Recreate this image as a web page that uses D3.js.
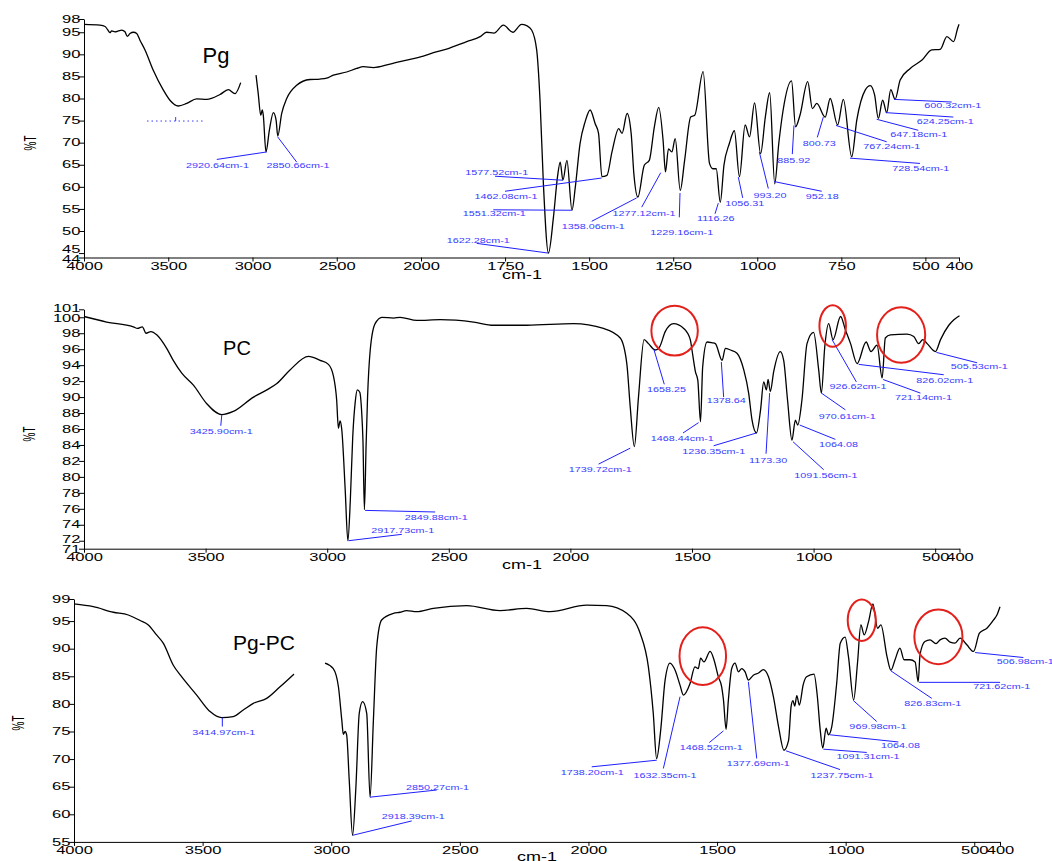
<!DOCTYPE html>
<html>
<head>
<meta charset="utf-8">
<script src="https://cdn.jsdelivr.net/npm/d3@7"></script>
<style>
  body { margin: 0; background: #fff; }
  text { font-family: Arial, "Liberation Sans", sans-serif; }
</style>
</head>
<body>
<div id="chart"></div>
<script>
// ---- data: [wavenumber cm-1, %T] ----
var pgSpectrumA = [[4000,96.8],[3905,96.6],[3875,96.3],[3860,95.6],[3846,94.9],[3836,95.3],[3816,95.1],[3796,95.3],[3776,95.5],[3757,95.1],[3743,94.1],[3727,94.7],[3707,95],[3687,94.7],[3668,93.2],[3638,91.0],[3589,86.4],[3529,81.9],[3490,79.6],[3440,78.3],[3390,78.9],[3331,79.9],[3272,79.8],[3193,80.9],[3143,82.0],[3104,81.1],[3070,83.6]];
var pgSpectrumB = [[2979,85.3],[2966,81.1],[2951,76.2],[2942,77.4],[2936,76.2],[2920,67.9],[2900,72.8],[2876,76.8],[2860,75.1],[2850,71.5],[2827,76.6],[2797,80],[2738,83],[2659,84.3],[2600,84.4],[2560,84.6],[2520,85.3],[2441,86],[2382,86.8],[2342,87.2],[2283,87],[2184,87.8],[2085,88.7],[1993,89.6],[1963,90.4],[1924,91.2],[1864,92.9],[1824,94],[1805,95],[1783,94.8],[1755,96.6],[1727,95],[1701,96.8],[1686,96.5],[1671,95.5],[1656,91],[1646,79.6],[1636,60.7],[1621,45],[1606,53.2],[1594,62.3],[1586,65.6],[1578,61.5],[1566,66],[1551,54.7],[1541,60],[1527,69.8],[1512,74.7],[1497,77.4],[1482,74.3],[1472,72.1],[1462,62.3],[1447,62.6],[1432,67.9],[1412,73.2],[1402,72.1],[1387,76.6],[1375,72.1],[1367,63],[1355,57.7],[1336,64.9],[1321,66],[1306,73.6],[1293,78],[1280,70.5],[1273,63.4],[1264,68.6],[1254,67.9],[1244,70.9],[1229,59.2],[1216,66],[1198,75.8],[1186,76.2],[1161,86.1],[1142,65.3],[1132,64.1],[1122,64.1],[1110,56.5],[1099,64.9],[1083,69.8],[1068,72.7],[1053,62.3],[1036,74],[1023,71.3],[1008,79],[990,67.5],[976,75.8],[963,81.3],[948,60.7],[936,69.8],[923,77.4],[898,84],[886,73.6],[873,76.2],[850,83.8],[836,77.7],[823,78.9],[798,75.8],[783,80],[761,74],[744,79.8],[719,66.8],[704,75.1],[679,81.9],[664,82.9],[651,80.8],[640,75.5],[627,79.6],[615,76.8],[603,82],[590,79.8],[575,84.2],[545,86.8],[510,88.7],[481,91],[456,91.1],[436,94],[416,92.9],[404,95.9],[400,96.8]];

var pcSpectrum = [[4000,100.1],[3907,99.4],[3797,98.8],[3780,98.6],[3760,98.8],[3745,98.0],[3725,98.2],[3701,97.8],[3660,96.1],[3633,94.6],[3598,93],[3550,91.5],[3496,89.2],[3434,87.8],[3386,88.2],[3303,90],[3248,90.9],[3207,91.7],[3153,93.4],[3077,95.1],[3029,94.6],[2995,94.1],[2974,92.6],[2961,89.6],[2954,86.1],[2947,87],[2940,85.9],[2926,78.4],[2915,72],[2905,77],[2895,85],[2885,89.3],[2876,90.9],[2866,90.6],[2858,88],[2853,84.6],[2847,75.9],[2840,84],[2834,90],[2823,95.9],[2803,99.2],[2775,100],[2727,99.9],[2700,100],[2631,99.6],[2535,99.7],[2398,99.4],[2316,99],[2179,99],[1987,99.2],[1864,98.6],[1795,97.4],[1768,94.2],[1754,88.8],[1737,83.8],[1720,90],[1697,97.2],[1679,96.7],[1651,95.9],[1633,96.3],[1610,98.2],[1576,99.2],[1534,98.6],[1507,97.2],[1500,95.9],[1486,93.2],[1476,92.1],[1465,86.9],[1456,93.8],[1438,96.9],[1417,96.8],[1404,96.7],[1376,94.6],[1363,96.1],[1342,95.9],[1315,95.5],[1287,93.4],[1267,90.5],[1253,87.1],[1235,85.5],[1218,88.4],[1205,91.9],[1194,90.9],[1187,92.2],[1178,90.7],[1164,93.2],[1137,95.7],[1123,94.6],[1107,89.6],[1089,84.6],[1075,87.1],[1065,86.5],[1048,89.6],[1027,96.7],[1000,98.1],[979,93.4],[968,90.5],[954,96.3],[938,99.2],[920,97.2],[889,100.1],[869,98.4],[848,96.7],[821,94.2],[784,96.9],[764,95.7],[739,96.5],[718,92.4],[705,97.4],[684,97.8],[616,97.9],[588,97.6],[568,96.7],[551,97.2],[533,96.7],[499,95.7],[478,97.2],[444,99],[423,99.7],[400,100.2]];

var pgpcSpectrumA = [[4000,98.1],[3925,97.6],[3847,96.6],[3789,96.1],[3743,95.1],[3711,94.3],[3679,92.5],[3653,91],[3614,87],[3581,84.9],[3523,81.6],[3471,78.6],[3426,77.5],[3381,77.7],[3342,78.9],[3303,80.1],[3251,81],[3199,83.1],[3145,85.4]];
var pgpcSpectrumB = [[3024,87.4],[2992,86.4],[2972,83.1],[2959,77.1],[2953,74.5],[2946,75],[2940,74.4],[2930,66.2],[2917,56.2],[2904,65],[2891,78.3],[2878,80.4],[2862,78.3],[2849,63.1],[2836,77.1],[2823,90.4],[2804,95.2],[2758,96.4],[2733,96.6],[2707,96.9],[2668,96.7],[2603,97.3],[2473,97.8],[2344,96.9],[2240,97.3],[2149,96.7],[2007,97.9],[1929,97.8],[1851,96.4],[1799,92.8],[1767,86.7],[1748,78.3],[1735,70.1],[1719,75.3],[1702,84.3],[1683,87.4],[1663,86.1],[1644,83.4],[1631,81.6],[1605,83.7],[1586,86.7],[1573,86.4],[1564,88.3],[1551,87.6],[1527,89.5],[1512,88],[1495,84.9],[1482,83.1],[1475,80.7],[1465,75.4],[1456,80.7],[1443,86.4],[1430,87.4],[1417,85.8],[1404,86.4],[1391,85.8],[1378,84.3],[1359,85.2],[1339,85.6],[1320,86.2],[1300,84.9],[1281,81.3],[1261,75.9],[1240,71.6],[1222,73.4],[1212,79.6],[1205,80.6],[1198,79.6],[1190,81.5],[1180,79.8],[1165,83.5],[1152,84.9],[1123,85.4],[1110,81.3],[1099,75.3],[1089,72],[1076,75.6],[1067,74.4],[1054,75.9],[1035,83.7],[1021,91],[1002,92.1],[989,88.5],[969,80.7],[954,87.4],[941,94.3],[928,92.5],[911,94.9],[894,98.1],[876,93.7],[863,94.3],[839,88.5],[824,86.1],[808,88],[789,90.1],[773,88],[750,88],[730,87.6],[718,84],[711,88.9],[692,91.3],[672,91.6],[649,90.9],[633,91.6],[614,91.9],[594,91.2],[575,91],[555,91.9],[529,90.7],[503,89.5],[480,92.8],[451,93.7],[425,95.2],[412,96.1],[400,97.6]];

// tick values
var pgTicksX = [4000,3500,3000,2500,2000,1750,1500,1250,1000,750,500,400];
var pcTicksX = [4000,3500,3000,2500,2000,1500,1000,500,400];
var pgpcTicksX = [4000,3500,3000,2500,2000,1500,1000,500,400];
var pgTicksY = [98,95,90,85,80,75,70,65,60,55,50,45,44];
var pcTicksY = [101,100,98,96,94,92,90,88,86,84,82,80,78,76,74,72,71];
var pgpcTicksY = [99,95,90,85,80,75,70,65,60,55];

// peak labels: [text, peak cm-1, peak %T, leader end cm-1, leader end %T, label cm-1, label %T]
var pgPeakLabels = [
  ["2920.64cm-1",2915.7,67.9,3212,66.2,3208,64.9],
  ["2850.66cm-1",2850.4,71.3,2737.6,65.6,2730,64.9],
  ["1577.52cm-1",1578.6,61.5,1779.9,62.4,1774.9,63.3],
  ["1462.08cm-1",1462.6,62.0,1750.2,59.0,1747.2,57.7],
  ["1551.32cm-1",1551.8,54.7,1785,54.8,1782,54.0],
  ["1358.06cm-1",1358.5,57.5,1492.3,52.2,1487.6,51.0],
  ["1277.12cm-1",1287.1,63.2,1343.6,55.4,1336.7,53.9],
  ["1229.16cm-1",1229.7,58.6,1231.8,53.1,1224.7,49.7],
  ["1622.28cm-1",1621.4,45.0,1834.3,47.2,1829.5,47.9],
  ["1116.26",1115.8,56.3,1125.6,53.9,1123.2,52.8],
  ["1056.31",1056.3,62.2,1043.3,57.5,1037.3,56.3],
  ["993.20",993.9,67.9,967.1,59.6,962.1,58.1],
  ["952.18",950.2,61.2,808.3,59.0,806.8,57.8],
  ["885.92",890.8,73.9,895.8,67.4,891.4,66.0],
  ["800.73",803.5,75.8,821.4,71.2,815.8,69.8],
  ["767.24cm-1",765.8,73.9,615,70.2,599.8,69.0],
  ["728.54cm-1",724.2,66.5,516,65.3,513.6,64.1],
  ["647.18cm-1",644.8,75.3,521,72.8,519.6,71.8],
  ["624.25cm-1",618,76.8,417,75.8,441.1,74.7],
  ["600.32cm-1",593.3,79.8,421.7,79.2,418.4,78.3]
];
var pcPeakLabels = [
  ["3425.90cm-1",3433.5,87.75,3437.6,86.4,3435.2,85.7],
  ["2917.73cm-1",2912.7,72.0,2693,72.8,2689.7,73.3],
  ["2849.88cm-1",2844,75.8,2556,75.6,2551.9,74.9],
  ["1739.72cm-1",1753.8,83.6,1884.2,81.6,1877.2,80.9],
  ["1658.25",1657.9,96.1,1613.9,91.6,1604.8,91.0],
  ["1468.44cm-1",1472.8,86.8,1536.9,85.5,1539.9,84.8],
  ["1236.35cm-1",1235.4,85.5,1411,83.9,1411,83.2],
  ["1378.64",1379.4,94.4,1369.9,90.0,1358.8,89.5],
  ["1173.30",1180.7,90.5,1195.5,82.9,1187.2,82.1],
  ["1091.56cm-1",1084.4,84.4,958.5,80.9,949.5,80.1],
  ["1064.08",1057.3,86.5,910.4,84.7,898.0,84.1],
  ["970.61cm-1",968.0,90.5,869.2,88.4,861.8,87.6],
  ["926.62cm-1",924,97.2,824,91.9,817.8,91.3],
  ["826.02cm-1",814.5,94.1,464.8,92.8,461.1,92.1],
  ["721.14cm-1",714.2,92.2,560.7,90.5,548.4,89.9],
  ["505.53cm-1",494.9,95.6,327.4,94.3,318.7,93.8]
];
var pgpcPeakLabels = [
  ["3414.97cm-1",3423.4,77.5,3423.4,75.9,3417.6,74.8],
  ["2918.39cm-1",2916.4,56.2,2687,58.8,2680.8,59.5],
  ["2850.27cm-1",2849.2,63.1,2589.8,64.4,2586.7,64.9],
  ["1738.20cm-1",1734.5,69.8,1987.2,68.6,1984.8,67.5],
  ["1632.35cm-1",1643.9,81.3,1708.8,68.3,1702.2,67.1],
  ["1468.52cm-1",1475.5,75.1,1530,73.0,1522.2,72.1],
  ["1377.69cm-1",1378.3,84.0,1345.7,70.1,1339.5,69.2],
  ["1237.75cm-1",1231.8,71.5,1021.8,68.1,1014,67.1],
  ["1091.31cm-1",1086.7,71.8,918.0,71.2,912.9,70.4],
  ["1064.08",1060.7,74.4,795.1,73.1,786.6,72.4],
  ["969.98cm-1",970.0,80.6,879.1,76.8,874.8,75.9],
  ["826.83cm-1",824.7,86.0,665.3,81.0,661.0,80.0],
  ["721.62cm-1",714.6,83.9,399.7,83.9,393.1,83.2],
  ["506.98cm-1",496.9,89.3,309.1,88.4,301.7,87.6]
];

// highlighted regions (red rings): [cm-1 left, cm-1 right, %T top, %T bottom]
var pcRings = [[1667,1476,101.45,95.2],[976,867,101.5,96.3],[739,541,101.25,94.3]];
var pgpcRings = [[1646,1465,93.9,83.4],[992,883,98.9,91.4],[733,546,97.1,87.2]];

// the broken dotted label under the Pg OH band: [from cm-1, to cm-1, %T, tick cm-1, tick top %T]
var pgDottedMark = [3626,3282,74.9,3456,75.8];

var svg = d3.select("#chart").append("svg")
  .attr("width", 1052).attr("height", 861);

var panels = [
  {spectra: [pgSpectrumA, pgSpectrumB], xDomain: [4000,2000,400], xRange: [84,421,959],
   yDomain: [44,98], yRange: [257.5,19], xTicks: pgTicksX, yTicks: pgTicksY,
   title: "Pg", titleX: 216, titleY: 62.5, titleSize: 22,
   yLabelX: 30, yLabelY: 143, xLabelX: 522, xLabelY: 279,
   peaks: pgPeakLabels, rings: []},
  {spectra: [pcSpectrum], xDomain: [4000,400], xRange: [84,959.5],
   yDomain: [71,101], yRange: [548.7,309.3], xTicks: pcTicksX, yTicks: pcTicksY,
   title: "PC", titleX: 237, titleY: 354.5, titleSize: 20,
   yLabelX: 29, yLabelY: 434, xLabelX: 522, xLabelY: 569,
   peaks: pcPeakLabels, rings: pcRings},
  {spectra: [pgpcSpectrumA, pgpcSpectrumB], xDomain: [4000,400], xRange: [74,1000],
   yDomain: [55,99], yRange: [841.9,599], xTicks: pgpcTicksX, yTicks: pgpcTicksY,
   title: "Pg-PC", titleX: 264, titleY: 650, titleSize: 21,
   yLabelX: 18, yLabelY: 723, xLabelX: 537, xLabelY: 861,
   peaks: pgpcPeakLabels, rings: pgpcRings}
];

function drawPanel(p) {
  var x = d3.scaleLinear().domain(p.xDomain).range(p.xRange);
  var y = d3.scaleLinear().domain(p.yDomain).range(p.yRange);
  var g = svg.append("g");

  // x axis
  g.append("g")
    .attr("transform", "translate(0," + p.yRange[0] + ")")
    .attr("font-family", "Arial, 'Liberation Sans', sans-serif")
    .attr("font-size", 8.5)
    .call(d3.axisBottom(x).tickValues(p.xTicks).tickSize(4).tickSizeOuter(0)
      .tickPadding(1.5).tickFormat(d3.format("d")))
    .selectAll(".tick text").attr("transform", "scale(1.65,1)");

  // y axis; labels of ticks that sit too close together are pushed apart a little
  var minGap = 10;
  var shifts = p.yTicks.map(function() { return 0; });
  p.yTicks.forEach(function(d, i) {
    var next = p.yTicks[i + 1];
    if (next == null) return;
    var gap = Math.abs(y(next) - y(d));
    if (gap < minGap) {
      shifts[i] -= (minGap - gap) * 0.6;
      shifts[i + 1] += (minGap - gap) * 0.4;
    }
  });
  var yAxis = g.append("g")
    .attr("transform", "translate(" + p.xRange[0] + ",0)")
    .attr("font-family", "Arial, 'Liberation Sans', sans-serif")
    .attr("font-size", 8.5)
    .call(d3.axisLeft(y).tickValues(p.yTicks).tickSize(5).tickSizeOuter(0)
      .tickFormat(d3.format("d")));
  yAxis.selectAll(".tick text")
    .attr("x", -2.2)
    .attr("transform", function(d, i) {
      return "translate(0," + shifts[i] + ") scale(1.65,1)";
    });

  // spectrum
  var line = d3.line()
    .x(function(d) { return x(d[0]); })
    .y(function(d) { return y(d[1]); })
    .curve(d3.curveMonotoneX);
  p.spectra.forEach(function(s) {
    g.append("path").datum(s)
      .attr("d", line)
      .attr("fill", "none")
      .attr("stroke", "#000")
      .attr("stroke-width", 1.3);
  });

  // peak labels with leader lines
  p.peaks.forEach(function(d) {
    g.append("line")
      .attr("x1", x(d[1])).attr("y1", y(d[2]))
      .attr("x2", x(d[3])).attr("y2", y(d[4]))
      .attr("stroke", "#1f1fff").attr("stroke-width", 1);
    g.append("text")
      .attr("transform", "translate(" + x(d[5]) + "," + y(d[6]) + ") scale(1.35,1)")
      .attr("text-anchor", "middle")
      .attr("dy", "0.3em")
      .attr("font-size", 8)
      .attr("fill", "#3a3aff")
      .text(d[0]);
  });

  // red rings
  p.rings.forEach(function(r) {
    g.append("ellipse")
      .attr("cx", (x(r[0]) + x(r[1])) / 2)
      .attr("cy", (y(r[2]) + y(r[3])) / 2)
      .attr("rx", Math.abs(x(r[1]) - x(r[0])) / 2)
      .attr("ry", Math.abs(y(r[3]) - y(r[2])) / 2)
      .attr("fill", "none")
      .attr("stroke", "#e3211c")
      .attr("stroke-width", 2);
  });

  // titles
  g.append("text")
    .attr("x", p.titleX).attr("y", p.titleY)
    .attr("text-anchor", "middle")
    .attr("font-size", p.titleSize)
    .attr("fill", "#000")
    .text(p.title);

  g.append("text")
    .attr("transform", "translate(" + p.yLabelX + "," + p.yLabelY + ") scale(1.6,1) rotate(-90)")
    .attr("text-anchor", "middle")
    .attr("dy", "0.35em")
    .attr("font-size", 10)
    .text("%T");

  g.append("text")
    .attr("transform", "translate(" + p.xLabelX + "," + p.xLabelY + ") scale(1.5,1)")
    .attr("text-anchor", "middle")
    .attr("font-size", 12)
    .text("cm-1");

  return {x: x, y: y, g: g};
}

var drawn = panels.map(drawPanel);

// dotted remnant of a label in the Pg panel
var p0 = drawn[0];
p0.g.append("line")
  .attr("x1", p0.x(pgDottedMark[0])).attr("x2", p0.x(pgDottedMark[1]))
  .attr("y1", p0.y(pgDottedMark[2])).attr("y2", p0.y(pgDottedMark[2]))
  .attr("stroke", "#3a3aff").attr("stroke-width", 1)
  .attr("stroke-dasharray", "1.5,3");
p0.g.append("line")
  .attr("x1", p0.x(pgDottedMark[3])).attr("x2", p0.x(pgDottedMark[3]))
  .attr("y1", p0.y(pgDottedMark[2])).attr("y2", p0.y(pgDottedMark[4]))
  .attr("stroke", "#3a3aff").attr("stroke-width", 1);
</script>
</body>
</html>
